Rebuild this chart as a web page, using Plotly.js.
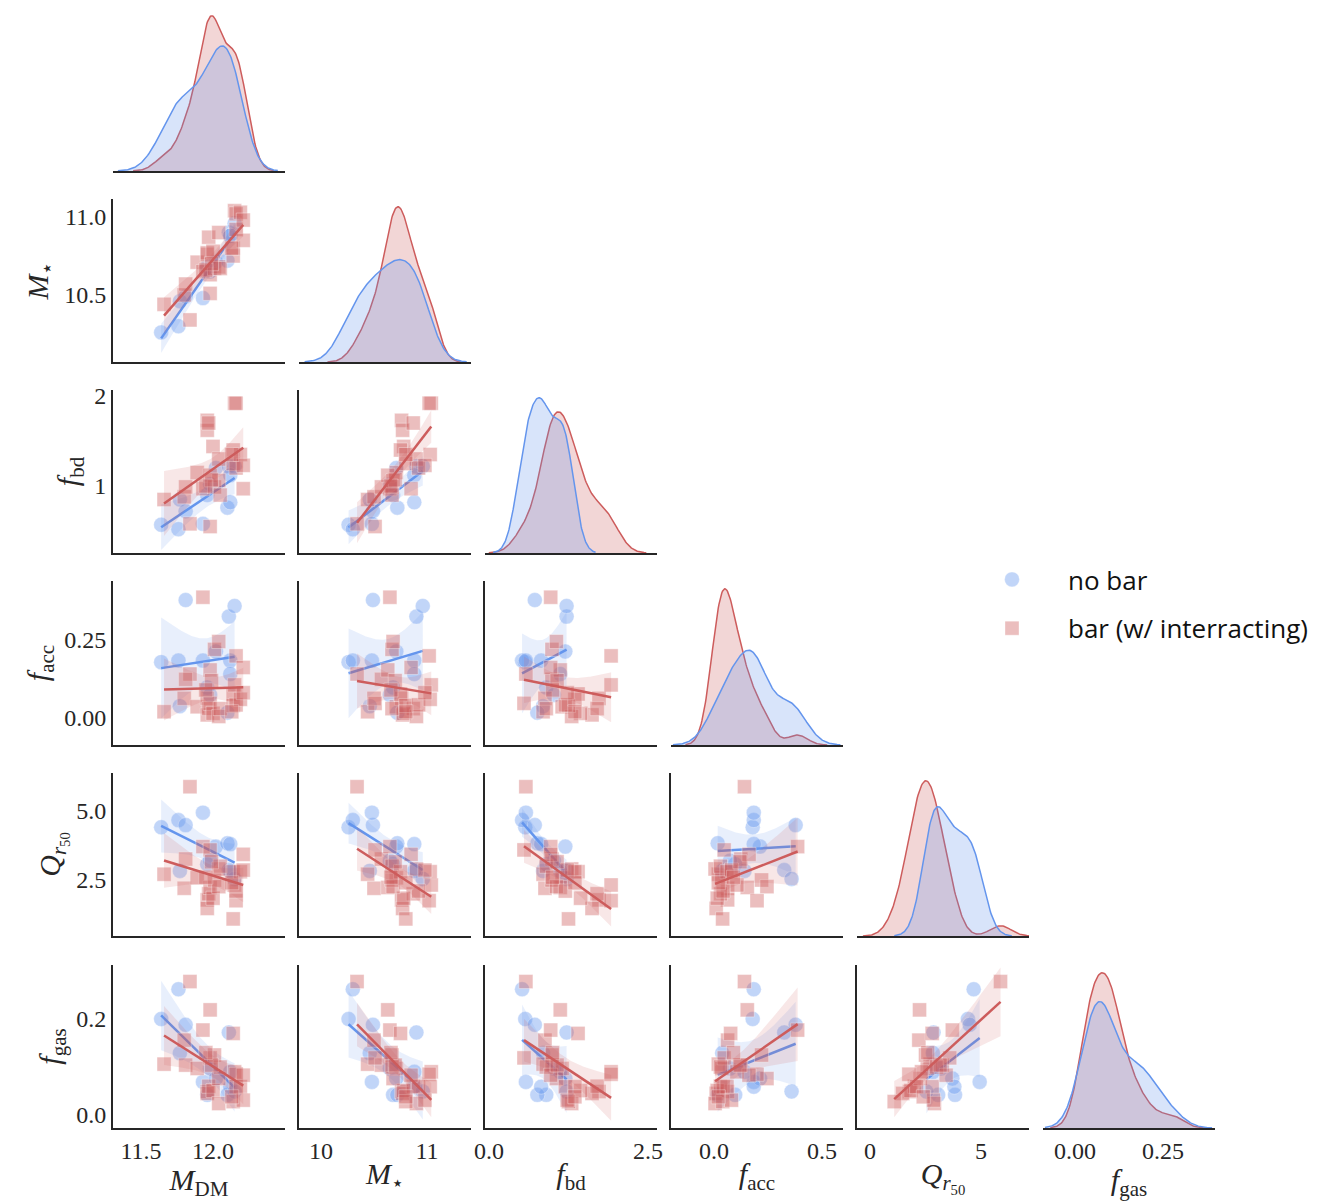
<!DOCTYPE html>
<html><head><meta charset="utf-8">
<script src="https://cdn.plot.ly/plotly-3.0.1.min.js"></script>
<style>body{margin:0;background:#fff}#chart{width:1320px;height:1201px}</style>
</head><body><div id="chart"></div>
<script>
// ---------------- DATA ----------------
const varLabels = ['<i>M</i><sub>DM</sub>', '<i>M</i><sub>⋆</sub>', '<i>f</i><sub>bd</sub>',
  '<i>f</i><sub>acc</sub>', '<i>Q</i><sub><i>r</i><sub>50</sub></sub>', '<i>f</i><sub>gas</sub>'];

const groupNames = ['no bar', 'bar (w/ interracting)'];

// no bar
const noBarMDM   = [11.64, 11.76, 11.77, 11.81, 11.93, 11.96, 11.98, 12.02, 12.10, 12.11, 12.12, 12.15, 12.12];
const noBarMstar = [10.26, 10.30, 10.46, 10.49, 10.48, 10.68, 10.65, 10.71, 10.72, 10.90, 10.88, 10.96, 10.88];
const noBarFbd   = [0.57, 0.52, 0.85, 0.72, 0.58, 0.90, 1.02, 1.20, 0.76, 1.22, 0.82, 1.22, 1.12];
const noBarFacc  = [0.179, 0.184, 0.038, 0.378, 0.184, 0.098, 0.074, 0.213, 0.017, 0.325, 0.184, 0.359, 0.141];
const noBarQ     = [4.41, 4.67, 2.83, 4.49, 4.94, 3.07, 3.20, 3.71, 3.83, 2.86, 3.80, 2.54, 2.83];
const noBarFgas  = [0.200, 0.262, 0.129, 0.188, 0.069, 0.042, 0.097, 0.076, 0.042, 0.172, 0.059, 0.049, 0.090];

// bar (w/ interacting)
const barMDM   = [11.66, 11.80, 11.84, 11.81, 11.89, 11.93, 11.96, 11.96, 11.97, 11.98, 11.98, 12.00, 12.01, 12.04,
                  12.04, 12.05, 12.14, 12.14, 12.15, 12.16, 12.16, 12.19, 12.21, 12.21, 11.99, 12.13, 11.95];
const barMstar = [10.44, 10.50, 10.34, 10.57, 10.71, 10.65, 10.76, 10.77, 10.87, 10.63, 10.51, 10.78, 10.67, 10.68,
                  10.90, 10.67, 10.75, 10.80, 11.04, 11.02, 10.92, 11.03, 10.85, 10.98, 10.70, 10.80, 10.66];
const barFbd   = [0.85, 0.88, 0.58, 0.99, 1.15, 0.97, 1.73, 1.62, 1.70, 1.12, 0.55, 1.44, 0.99, 1.06,
                  1.30, 0.90, 1.40, 1.25, 1.92, 1.92, 1.20, 1.35, 0.97, 1.23, 1.07, 1.35, 1.00];
const barFacc  = [0.020, 0.063, 0.141, 0.124, 0.036, 0.387, 0.063, 0.010, 0.030, 0.154, 0.047, 0.015, 0.220, 0.245,
                  0.005, 0.030, 0.077, 0.040, 0.106, 0.199, 0.042, 0.060, 0.162, 0.081, 0.120, 0.020, 0.090];
const barQ     = [2.71, 2.20, 5.88, 3.26, 2.58, 3.71, 1.78, 1.47, 2.00, 2.23, 3.59, 1.84, 2.50, 2.26,
                  2.90, 3.00, 2.80, 1.09, 2.32, 1.75, 2.10, 2.80, 3.43, 2.86, 3.16, 2.40, 2.60];
const barFgas  = [0.106, 0.156, 0.278, 0.104, 0.097, 0.177, 0.049, 0.045, 0.060, 0.219, 0.119, 0.051, 0.125, 0.076,
                  0.024, 0.100, 0.170, 0.028, 0.090, 0.085, 0.059, 0.059, 0.083, 0.031, 0.104, 0.038, 0.130];

const xTickVals = [[11.5, 12.0], [10, 11], [0, 2.5], [0, 0.5], [0, 5], [0, 0.25]];
const xTickText = [['11.5', '12.0'], ['10', '11'], ['0.0', '2.5'], ['0.0', '0.5'], ['0', '5'], ['0.00', '0.25']];
const yTickVals = [null, [10.5, 11.0], [1, 2], [0, 0.25], [2.5, 5.0], [0, 0.2]];
const yTickText = [null, ['10.5', '11.0'], ['1', '2'], ['0.00', '0.25'], ['2.5', '5.0'], ['0.0', '0.2']];

// ---------------- LAYOUT GEOMETRY ----------------
const W = 1320, H = 1201;
const colPx = [[113, 285], [299, 471], [485, 657], [671, 843], [857, 1029], [1043, 1215]];
const rowPx = [[8, 171], [199, 362], [390, 553], [581, 745], [773, 936], [965, 1128]];
const colRange = [[11.3056, 12.5], [9.7925, 11.415], [-0.063, 2.6415], [-0.199, 0.597], [-0.586, 7.162], [-0.0909, 0.3977]];
const rowRange = [null, [10.0705, 11.115], [0.256, 2.067], [-0.0865, 0.439], [0.471, 6.377], [-0.027, 0.3125]];

const groups = [
  {name: groupNames[0], cols: [noBarMDM, noBarMstar, noBarFbd, noBarFacc, noBarQ, noBarFgas],
   rgb: [100, 149, 237], symbol: 'circle', size: 15},
  {name: groupNames[1], cols: [barMDM, barMstar, barFbd, barFacc, barQ, barFgas],
   rgb: [205, 92, 92], symbol: 'square', size: 14}
];
const rgba = (c, a) => `rgba(${c[0]},${c[1]},${c[2]},${a})`;

// ---------------- HELPERS ----------------
function mean(a) { return a.reduce((s, v) => s + v, 0) / a.length; }
function sd(a) { const m = mean(a); return Math.sqrt(a.reduce((s, v) => s + (v - m) ** 2, 0) / (a.length - 1)); }
function tq(df) { const z = 1.959964; return z + (z ** 3 + z) / (4 * df) + (5 * z ** 5 + 16 * z ** 3 + 3 * z) / (96 * df * df); }

function kde(data) {
  const n = data.length;
  const bw = sd(data) * Math.pow(n, -0.2);
  const lo = Math.min(...data) - 3 * bw, hi = Math.max(...data) + 3 * bw;
  const xs = [], ys = [];
  for (let i = 0; i < 200; i++) {
    const x = lo + (hi - lo) * i / 199;
    let s = 0;
    for (const d of data) s += Math.exp(-0.5 * ((x - d) / bw) ** 2);
    xs.push(x); ys.push(s / (n * bw * Math.sqrt(2 * Math.PI)));
  }
  return {xs, ys};
}

function regression(x, y) {
  const n = x.length, mx = mean(x), my = mean(y);
  let sxx = 0, sxy = 0;
  for (let i = 0; i < n; i++) { sxx += (x[i] - mx) ** 2; sxy += (x[i] - mx) * (y[i] - my); }
  const b = sxy / sxx, a = my - b * mx;
  let sse = 0;
  for (let i = 0; i < n; i++) sse += (y[i] - a - b * x[i]) ** 2;
  const s = Math.sqrt(sse / (n - 2)), t = tq(n - 2);
  const lo = Math.min(...x), hi = Math.max(...x);
  const xs = [], yh = [], up = [], dn = [];
  for (let i = 0; i < 100; i++) {
    const xv = lo + (hi - lo) * i / 99;
    const f = a + b * xv;
    const e = t * s * Math.sqrt(1 / n + (xv - mx) ** 2 / sxx);
    xs.push(xv); yh.push(f); up.push(f + e); dn.push(f - e);
  }
  return {xs, yh, up, dn};
}

// ---------------- BUILD ----------------
const axisColor = '#262626';
const serif = 'Liberation Serif';
const tickFont = () => ({family: serif, size: 24, color: axisColor});
const titleFont = () => ({family: serif, size: 30, color: axisColor});
const traces = [];
const layout = {
  width: W, height: H, margin: {l: 0, r: 0, t: 0, b: 0},
  font: {family: serif, size: 24, color: axisColor},
  paper_bgcolor: '#fff', plot_bgcolor: 'rgba(0,0,0,0)',
  showlegend: true,
  legend: {x: 956 / W, y: 1 - 604 / H, xanchor: 'left', yanchor: 'middle',
           font: {family: 'Open Sans', size: 26, color: '#111'},
           bgcolor: 'rgba(0,0,0,0)', tracegroupgap: 12, itemwidth: 102}
};

let k = 0;
for (let i = 0; i < 6; i++) {
  for (let j = 0; j <= i; j++) {
    k++;
    const xa = k === 1 ? 'x' : 'x' + k, ya = k === 1 ? 'y' : 'y' + k;
    const xKey = k === 1 ? 'xaxis' : 'xaxis' + k, yKey = k === 1 ? 'yaxis' : 'yaxis' + k;
    const bottom = i === 5;
    layout[xKey] = {
      domain: [colPx[j][0] / W, colPx[j][1] / W], anchor: ya, range: colRange[j],
      showline: true, linecolor: axisColor, linewidth: 2, showgrid: false, zeroline: false,
      ticks: '', showticklabels: bottom, tickmode: 'array', tickvals: xTickVals[j], ticktext: xTickText[j],
      tickfont: tickFont(), automargin: false
    };
    if (bottom) layout[xKey].title = {text: varLabels[j], font: titleFont(), standoff: 0};
    const yDom = [1 - rowPx[i][1] / H, 1 - rowPx[i][0] / H];

    if (i === j) {
      const dens = groups.map(g => kde(g.cols[j]));
      let ymax = 0;
      dens.forEach(d => d.ys.forEach(v => { if (v > ymax) ymax = v; }));
      layout[yKey] = {domain: yDom, anchor: xa, range: [0, ymax * 1.05], visible: false, fixedrange: true};
      [1, 0].forEach(gi => {
        const g = groups[gi], d = dens[gi];
        traces.push({type: 'scatter', mode: 'lines', x: d.xs, y: d.ys, xaxis: xa, yaxis: ya,
          fill: 'tozeroy', fillcolor: rgba(g.rgb, 0.25), line: {color: rgba(g.rgb, 1), width: 1.5},
          showlegend: false, hoverinfo: 'skip'});
      });
    } else {
      layout[yKey] = {
        domain: yDom, anchor: xa, range: rowRange[i],
        showline: true, linecolor: axisColor, linewidth: 2, showgrid: false, zeroline: false,
        ticks: '', showticklabels: j === 0, tickmode: 'array', tickvals: yTickVals[i], ticktext: yTickText[i],
        tickfont: tickFont(), automargin: false
      };
      if (j === 0) layout[yKey].title = {text: varLabels[i], font: titleFont(), standoff: 7};
      groups.forEach((g, gi) => {
        const xs = g.cols[j], ys = g.cols[i];
        traces.push({type: 'scatter', mode: 'markers', x: xs, y: ys, xaxis: xa, yaxis: ya,
          name: g.name, legendgroup: g.name, showlegend: (i === 1 && j === 0),
          marker: {symbol: g.symbol, size: g.size, color: rgba(g.rgb, 0.4), line: {color: 'rgba(255,255,255,0.6)', width: 0.6}},
          hoverinfo: 'skip'});
        const r = regression(xs, ys);
        traces.push({type: 'scatter', mode: 'lines', x: r.xs.concat(r.xs.slice().reverse()),
          y: r.up.concat(r.dn.slice().reverse()), xaxis: xa, yaxis: ya, fill: 'toself',
          fillcolor: rgba(g.rgb, 0.15), line: {width: 0}, showlegend: false, hoverinfo: 'skip'});
        traces.push({type: 'scatter', mode: 'lines', x: r.xs, y: r.yh, xaxis: xa, yaxis: ya,
          line: {color: rgba(g.rgb, 1), width: 2.5}, showlegend: false, hoverinfo: 'skip'});
      });
    }
  }
}

Plotly.newPlot('chart', traces, layout, {staticPlot: true});
</script>
</body></html>
